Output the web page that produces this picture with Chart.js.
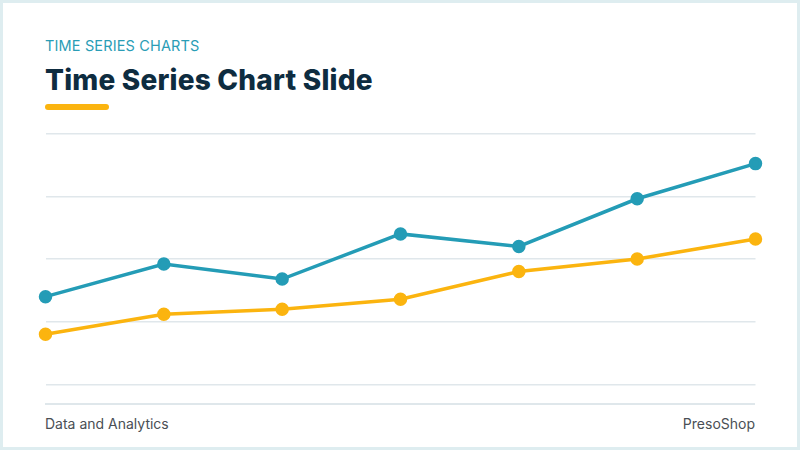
<!DOCTYPE html>
<html>
<head>
<meta charset="utf-8">
<script src="https://cdn.jsdelivr.net/npm/chart.js@4"></script>
<style>
  html, body { margin: 0; padding: 0; }
  body { width: 800px; height: 450px; background: #deedf0; position: relative; overflow: hidden; font-family: Inter, "Noto Sans", sans-serif; }
  #card { position: absolute; left: 3px; top: 3px; width: 794px; height: 444px; background: #ffffff; }
  #kicker { position: absolute; left: 45px; top: 37px; font-size: 14.5px; color: #2a9db6; letter-spacing: 0.15px; white-space: nowrap; }
  #title { position: absolute; left: 45px; top: 63px; font-size: 28px; font-weight: 800; color: #0e2c40; letter-spacing: 0.2px; white-space: nowrap; }
  #underline { position: absolute; left: 45px; top: 104px; width: 64px; height: 6px; border-radius: 3px; background: #fbb40f; }
  #chart-box { position: absolute; left: 37px; top: 125px; width: 727px; height: 268px; }
  #footer-line { position: absolute; left: 45px; top: 403px; width: 710px; height: 2px; background: #dfe7eb; }
  .foot { position: absolute; top: 415px; font-size: 14px; color: #4a4f55; white-space: nowrap; }
  #foot-left { left: 45px; }
  #foot-right { right: 45px; }
</style>
</head>
<body>
<div id="card"></div>
<div id="kicker">TIME SERIES CHARTS</div>
<div id="title">Time Series Chart Slide</div>
<div id="underline"></div>
<div id="chart-box"><canvas id="time-chart"></canvas></div>
<div id="footer-line"></div>
<div class="foot" id="foot-left">Data and Analytics</div>
<div class="foot" id="foot-right">PresoShop</div>

<script>
var periods = ['P1', 'P2', 'P3', 'P4', 'P5', 'P6', 'P7'];
var series_blue = [35, 48, 42, 60, 55, 74, 88];
var series_yellow = [20, 28, 30, 34, 45, 50, 58];
var y_min = 0;
var y_max = 100;
var y_step = 25;

document.addEventListener('DOMContentLoaded', function() {
    DrawChart();
})

// Two lines on a light horizontal grid, no axis labels
function DrawChart() {
    const colors = ['#249cb6', '#fbb40f'];
    const chart_data = {
        labels: periods,
        datasets: [{
            label: 'Series A',
            data: series_blue,
            borderColor: colors[0],
            backgroundColor: colors[0],
            borderWidth: 3.5,
            pointRadius: 5,
            pointHoverRadius: 5,
            tension: 0,
        }, {
            label: 'Series B',
            data: series_yellow,
            borderColor: colors[1],
            backgroundColor: colors[1],
            borderWidth: 3.5,
            pointRadius: 5,
            pointHoverRadius: 5,
            tension: 0,
        }]
    };
    new Chart(document.getElementById('time-chart'), {
        type: 'line',
        data: chart_data,
        options: {
            responsive: true,
            maintainAspectRatio: false,
            animation: false,
            layout: { padding: 6 },
            plugins: {
                legend: { display: false },
                tooltip: { enabled: false }
            },
            scales: {
                x: {
                    display: false,
                    offset: false
                },
                y: {
                    min: y_min,
                    max: y_max,
                    ticks: { display: false, stepSize: y_step },
                    border: { display: false },
                    grid: { color: '#e0e7eb', lineWidth: 1.5, drawTicks: false }
                }
            }
        }
    })
}
</script>
</body>
</html>
